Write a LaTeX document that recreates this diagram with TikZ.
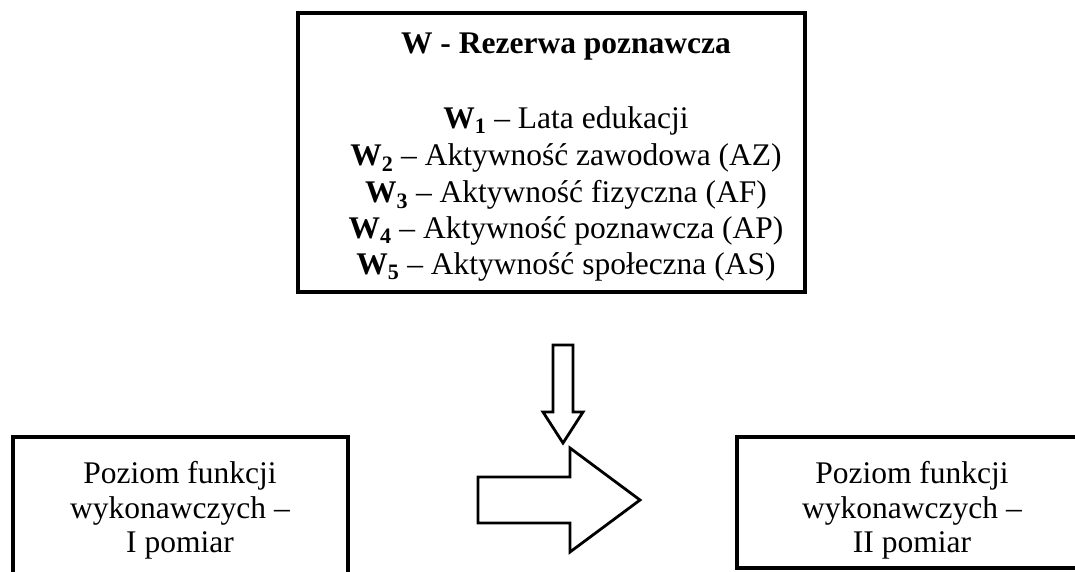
\documentclass[tikz,border=0pt]{standalone}
\usepackage{fontspec}
\setmainfont{Liberation Serif}
\begin{document}
\begin{tikzpicture}[x=1pt,y=-1pt,
  frame/.style={draw, line width=3.3pt, inner sep=0pt},
  blockarrow/.style={draw, line width=2.8pt, line join=miter, fill=white},
  txt/.style={anchor=base, inner sep=0pt, font=\fontsize{31.5}{36}\selectfont}]
\path[use as bounding box, clip] (0,0) rectangle (1075,571);

% boxes
\node[frame, minimum width=507pt, minimum height=279pt] (reserve) at (551.5,152.5) {};
\node[frame, minimum width=335pt, minimum height=183pt] (first) at (180.5,528.5) {};
\node[frame, minimum width=351pt, minimum height=131pt] (second) at (912.5,502.5) {};

% cognitive reserve text
\node[txt] (title) at (566,53) {\textbf{W - Rezerwa poznawcza}};
\node[txt] (w1) at (566,128) {\textbf{W\textsubscript{1}} – Lata edukacji};
\node[txt] (w2) at (566,165) {\textbf{W\textsubscript{2}} – Aktywność zawodowa (AZ)};
\node[txt] (w3) at (566,202) {\textbf{W\textsubscript{3}} – Aktywność fizyczna (AF)};
\node[txt] (w4) at (566,238) {\textbf{W\textsubscript{4}} – Aktywność poznawcza (AP)};
\node[txt] (w5) at (566,274) {\textbf{W\textsubscript{5}} – Aktywność społeczna (AS)};

% measurement boxes text
\node[txt] (a1) at (180,483) {Poziom funkcji};
\node[txt] (a2) at (180,518) {wykonawczych –};
\node[txt] (a3) at (180,552) {I pomiar};
\node[txt] (b1) at (912,483) {Poziom funkcji};
\node[txt] (b2) at (912,518) {wykonawczych –};
\node[txt] (b3) at (912,552) {II pomiar};

% block arrows
\draw[blockarrow] (553,345) -- (573,345) -- (573,412) -- (583,412) -- (563,443)
  -- (543,412) -- (553,412) -- cycle;
\draw[blockarrow] (478,477) -- (570,477) -- (570,448) -- (640,500) -- (570,552)
  -- (570,523) -- (478,523) -- cycle;
\end{tikzpicture}
\end{document}
